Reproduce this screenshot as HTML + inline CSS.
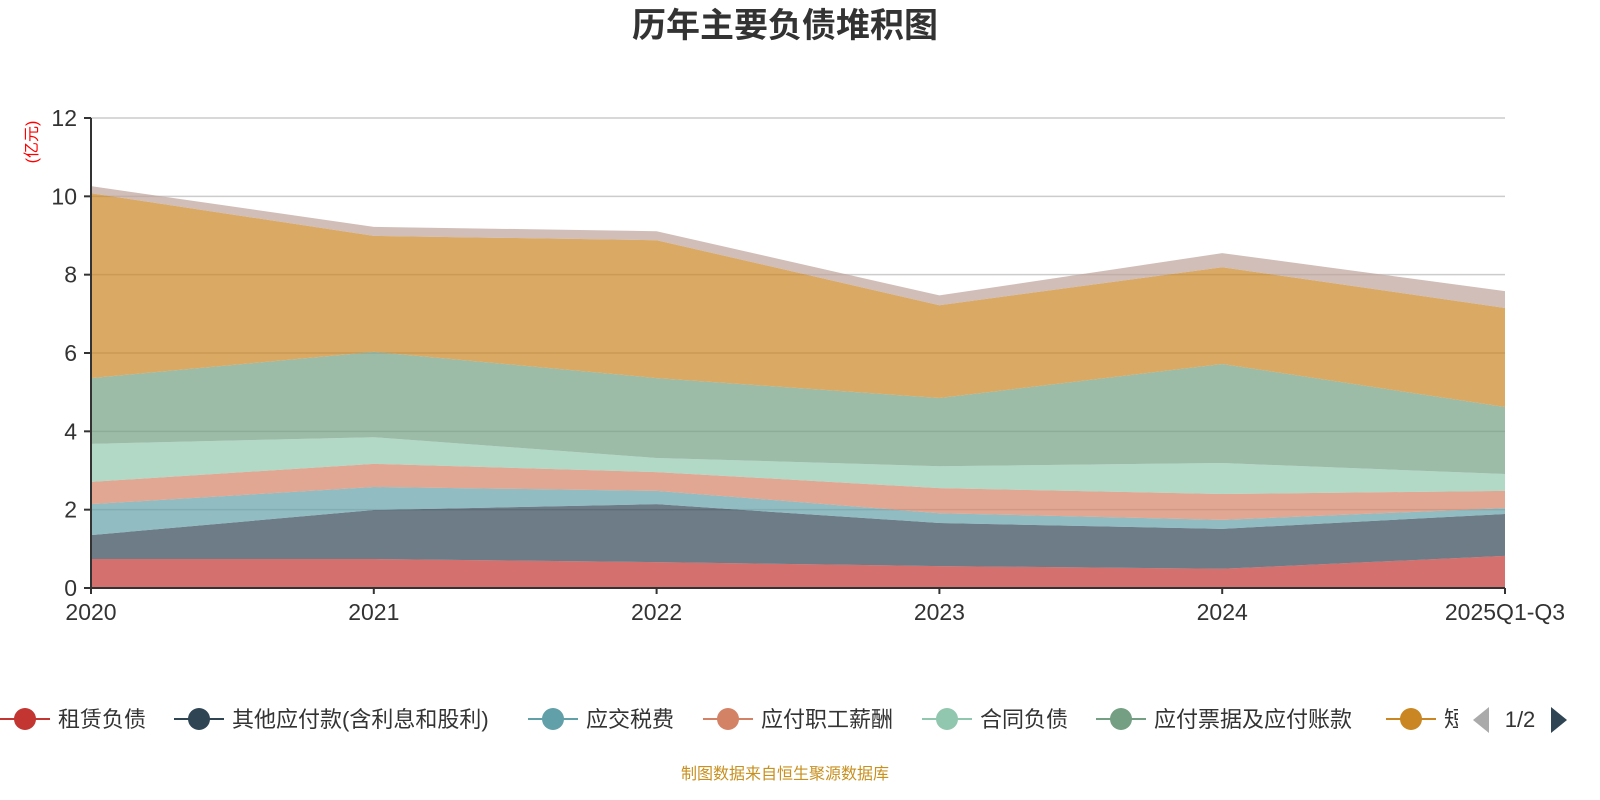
<!DOCTYPE html>
<html><head><meta charset="utf-8"><style>
body{margin:0;background:#fff;}
svg{display:block;font-family:"Liberation Sans","Noto Sans CJK SC",sans-serif;}
</style></head><body>
<svg id="c" width="1600" height="800">
<text x="785" y="37" text-anchor="middle" font-size="34" font-weight="bold" fill="#333">历年主要负债堆积图</text>
<text transform="translate(37,142) rotate(-90)" text-anchor="middle" font-size="16" fill="#ff0000">(亿元)</text>
<g id="grid"></g><g id="areas"></g><g id="axes"></g><g id="legend"></g>
<text x="785" y="779" text-anchor="middle" font-size="16" fill="#c8901f">制图数据来自恒生聚源数据库</text>
</svg>
<script>
const categories=["2020","2021","2022","2023","2024","2025Q1-Q3"];
const seriesNames=["租赁负债","其他应付款(含利息和股利)","应交税费","应付职工薪酬","合同负债","应付票据及应付账款","短期借款","其他"];
const s1=[0.74,0.74,0.66,0.56,0.49,0.82];
const s2=[0.61,1.25,1.48,1.10,1.02,1.07];
const s3=[0.79,0.59,0.34,0.25,0.23,0.15];
const s4=[0.57,0.59,0.48,0.64,0.66,0.44];
const s5=[0.97,0.68,0.36,0.56,0.79,0.43];
const s6=[1.68,2.18,2.04,1.74,2.53,1.71];
const s7=[4.72,2.96,3.52,2.37,2.47,2.53];
const s8=[0.18,0.23,0.23,0.25,0.36,0.43];
const yTicks=[0,2,4,6,8,10,12];
const series=[s1,s2,s3,s4,s5,s6,s7,s8];
const colors=["#c23531","#2f4554","#61a0a8","#d48265","#91c7ae","#749f83","#ca8622","#bda29a"];
const NS="http://www.w3.org/2000/svg";
const X0=91,X1=1505,Y0=588,Y1=118;
const x=i=>X0+i*(X1-X0)/(categories.length-1);
const y=v=>Y0-v*(Y0-Y1)/12;
function mk(t,a,p){const e=document.createElementNS(NS,t);for(const k in a)e.setAttribute(k,a[k]);p.appendChild(e);return e;}
const grid=document.getElementById('grid'),areas=document.getElementById('areas'),axes=document.getElementById('axes'),leg=document.getElementById('legend');
yTicks.forEach(t=>{
 if(t>0){const l=mk('line',{x1:X0,x2:X1,y1:y(t),y2:y(t),stroke:'#ccc','stroke-width':1.5},grid);
 
 }
 const tk=mk('line',{x1:X0-7,x2:X0,y1:y(t),y2:y(t),stroke:'#333','stroke-width':2},axes);
 
 
 const tx=mk('text',{x:X0-14,y:y(t)+8,'text-anchor':'end','font-size':23,fill:'#333'},axes);tx.textContent=t;
 
 
});
let base=categories.map(()=>0);
series.forEach((s,k)=>{
 const top=base.map((b,i)=>b+s[i]);
 let d='M'+top.map((v,i)=>x(i)+','+y(v)).join(' L');
 for(let i=categories.length-1;i>=0;i--)d+=' L'+x(i)+','+y(base[i]);
 const p=mk('path',{d:d+'Z',fill:colors[k],'fill-opacity':0.7},areas);
 
 
 base=top;
});
const ya=mk('line',{x1:X0,x2:X0,y1:Y1,y2:Y0,stroke:'#333','stroke-width':2},axes);


const xa=mk('line',{x1:X0,x2:X1,y1:Y0,y2:Y0,stroke:'#333','stroke-width':2},axes);


categories.forEach((c,i)=>{
 const tk=mk('line',{x1:x(i),x2:x(i),y1:Y0,y2:Y0+6,stroke:'#333','stroke-width':2},axes);
 
 
 const t=mk('text',{x:x(i),y:620,'text-anchor':'middle','font-size':23,fill:'#333'},axes);t.textContent=c;
 
 
});
const lx=[0,174,528,703,922,1096,1386];
lx.forEach((px,k)=>{
 const g=mk('g',{},leg);
 
 
 mk('line',{x1:px,x2:px+50,y1:719,y2:719,stroke:colors[k],'stroke-width':2},g);
 mk('circle',{cx:px+25,cy:719,r:11,fill:colors[k]},g);
 const t=mk('text',{x:px+58,y:727,'font-size':22,fill:'#333'},g);t.textContent=seriesNames[k];
 if(k==6){mk('clipPath',{id:'cl'},leg).appendChild(document.createElementNS(NS,'rect'));
  const r=document.querySelector('#cl rect');r.setAttribute('x',1380);r.setAttribute('y',690);r.setAttribute('width',78);r.setAttribute('height',60);
  g.setAttribute('clip-path','url(#cl)');}
});
const pl=mk('path',{d:'M1489,707 L1473,720 L1489,733Z',fill:'#aaa'},leg);


const pt=mk('text',{x:1520,y:727,'text-anchor':'middle','font-size':22,fill:'#333'},leg);pt.textContent='1/2';


const pr=mk('path',{d:'M1551,707 L1567,720 L1551,733Z',fill:'#2f4554'},leg);


</script>
</body></html>
